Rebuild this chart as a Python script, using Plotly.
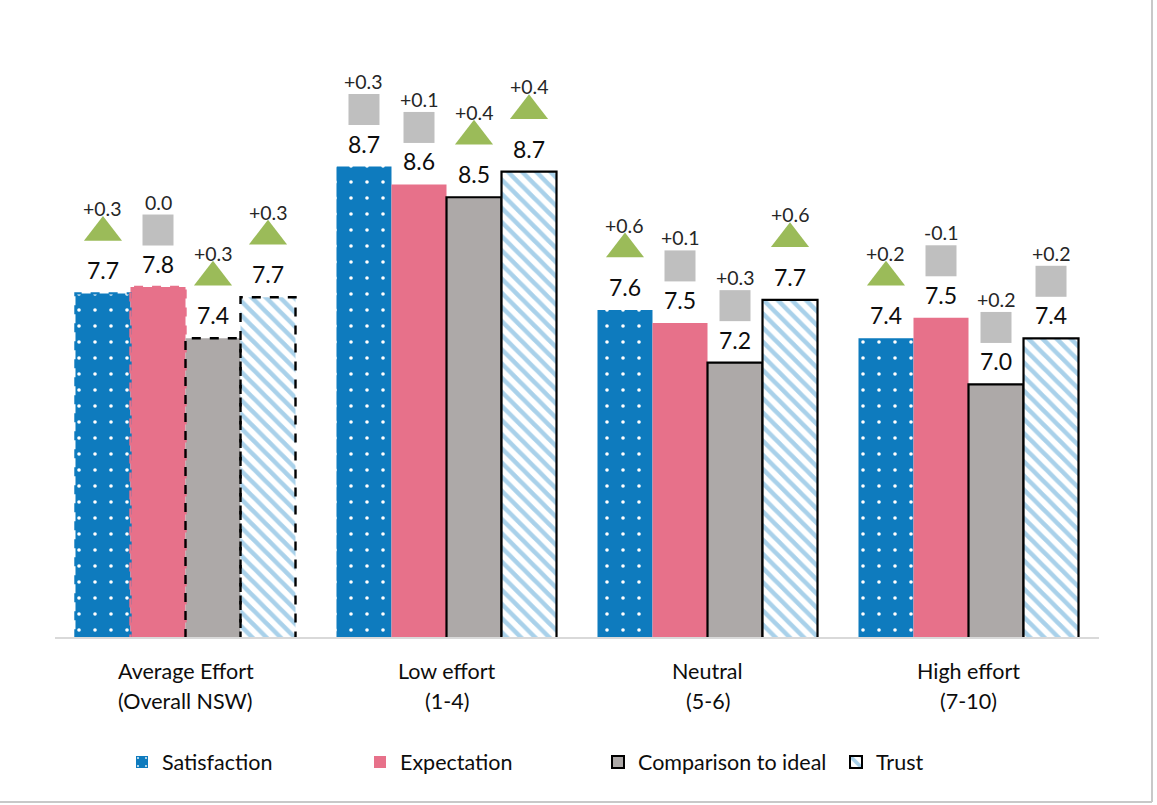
import plotly.graph_objects as go

# ---- data -------------------------------------------------------------
cat_line1 = ["Average Effort", "Low effort", "Neutral", "High effort"]
cat_line2 = ["(Overall NSW)", "(1-4)", "(5-6)", "(7-10)"]

series_names = ["Satisfaction", "Expectation", "Comparison to ideal", "Trust"]

satisfaction = [7.71, 8.70, 7.58, 7.36]
expectation = [7.76, 8.56, 7.48, 7.52]
comparison = [7.36, 8.46, 7.17, 7.00]
trust = [7.68, 8.66, 7.66, 7.36]

# change since previous wave, and whether it is significant
chg_satisfaction = [0.3, 0.3, 0.6, 0.2]
chg_expectation = [0.0, 0.1, 0.1, -0.1]
chg_comparison = [0.3, 0.4, 0.3, 0.2]
chg_trust = [0.3, 0.4, 0.6, 0.2]

sig_satisfaction = [True, False, True, True]
sig_expectation = [False, False, False, False]
sig_comparison = [True, True, False, False]
sig_trust = [True, True, True, False]

values = [satisfaction, expectation, comparison, trust]
changes = [chg_satisfaction, chg_expectation, chg_comparison, chg_trust]
signif = [sig_satisfaction, sig_expectation, sig_comparison, sig_trust]

# ---- layout geometry --------------------------------------------------
W, H = 1157, 805
M_L, M_R, M_T, M_B = 55, 58, 30, 168
plot_w = W - M_L - M_R
plot_h = H - M_T - M_B
y_min = 5.03
ppu = 128.2                      # pixels per score unit
y_max = y_min + plot_h / ppu

bargap = 0.157
bw = (1 - bargap) / 4
xs = list(range(len(cat_line1)))

FONT = "Lato"
TXT = "#0D0D0D"
BLUE = "#0E7BBE"
PINK = "#E7718A"
GREY = "#ADA9A8"
STRIPE = "#A9D1EA"
GREEN = "#9BBB59"
SQ_GREY = "#BFBFBF"

fig = go.Figure()

sat_pattern = dict(shape=".", fgcolor="white", bgcolor=BLUE,
                   size=16, solidity=0.04, fillmode="replace")
trust_pattern = dict(shape="\\", fgcolor=STRIPE, bgcolor="white",
                     size=10, solidity=0.45, fillmode="replace")

styles = [
    dict(color=BLUE, pattern=sat_pattern, line=dict(width=0)),
    dict(color=PINK, line=dict(width=0)),
    dict(color=GREY, line=dict(color="black", width=[0, 2.2, 2.2, 2.2])),
    dict(color="white", pattern=trust_pattern,
         line=dict(color="black", width=[0, 2.2, 2.2, 2.2])),
]
legend_styles = [
    dict(color=BLUE, pattern=sat_pattern, line=dict(width=0)),
    dict(color=PINK, line=dict(width=0)),
    dict(color=GREY, line=dict(color="black", width=2)),
    dict(color="white", pattern=trust_pattern, line=dict(color="black", width=2)),
]

for i, (name, vals) in enumerate(zip(series_names, values)):
    fig.add_trace(go.Bar(
        x=xs, y=vals, name=name, width=bw, offset=(i - 2) * bw,
        marker=styles[i], hoverinfo="skip", showlegend=False,
    ))

# legend entries
for i, name in enumerate(series_names):
    fig.add_trace(go.Bar(x=[None], y=[None], name=name,
                         marker=legend_styles[i], hoverinfo="skip"))

# dashed outlines on the overall-average group
dash_colors = [BLUE, PINK, "black", "black"]
for i, vals in enumerate(values):
    x0 = xs[0] + (i - 2) * bw
    fig.add_shape(type="rect", xref="x", yref="y",
                  x0=x0, x1=x0 + bw, y0=y_min - 0.02, y1=vals[0],
                  line=dict(color=dash_colors[i], width=2.4, dash="dash"),
                  fillcolor="rgba(0,0,0,0)", layer="above")

# value labels, significance markers and change labels above each bar
tri_x, tri_y, sq_x, sq_y = [], [], [], []
for i, vals in enumerate(values):
    for g, v in enumerate(vals):
        cx = xs[g] + (i - 1.5) * bw
        fig.add_annotation(x=cx, y=v, xref="x", yref="y", text=f"{v:.1f}",
                           showarrow=False, yshift=23,
                           font=dict(family=FONT, size=23, color=TXT))
        c = changes[i][g]
        ctext = f"+{c:.1f}" if c > 0 else f"{c:.1f}"
        fig.add_annotation(x=cx, y=v, xref="x", yref="y", text=ctext,
                           showarrow=False, yshift=85,
                           font=dict(family=FONT, size=19.5, color="#262626"))
        my = v + 57 / ppu
        if signif[i][g]:
            tri_x.append(cx); tri_y.append(my + 4 / ppu)
        else:
            sq_x.append(cx); sq_y.append(my)

fig.add_trace(go.Scatter(x=tri_x, y=tri_y, mode="markers", showlegend=False,
                         hoverinfo="skip",
                         marker=dict(symbol="triangle-up", size=33, color=GREEN,
                                     line=dict(width=0))))
fig.add_trace(go.Scatter(x=sq_x, y=sq_y, mode="markers", showlegend=False,
                         hoverinfo="skip",
                         marker=dict(symbol="square", size=31, color=SQ_GREY,
                                     line=dict(width=0))))

# two-line category labels
for g in xs:
    fig.add_annotation(x=g, y=0, xref="x", yref="paper", text=cat_line1[g],
                       showarrow=False, yanchor="middle", yshift=-34,
                       font=dict(family=FONT, size=21.5, color=TXT))
    fig.add_annotation(x=g, y=0, xref="x", yref="paper", text=cat_line2[g],
                       showarrow=False, yanchor="middle", yshift=-64,
                       font=dict(family=FONT, size=21.5, color=TXT))

# outer frame (right and bottom edges)
fx = (1152 - M_L) / plot_w
fy = -(802 - (H - M_B)) / plot_h
fig.add_shape(type="line", xref="paper", yref="paper", x0=fx, x1=fx,
              y0=fy, y1=1 + M_T / plot_h, line=dict(color="#C8C8C8", width=2))
fig.add_shape(type="line", xref="paper", yref="paper", x0=-M_L / plot_w, x1=fx,
              y0=fy, y1=fy, line=dict(color="#C8C8C8", width=2))

fig.update_layout(
    width=W, height=H,
    margin=dict(l=M_L, r=M_R, t=M_T, b=M_B),
    paper_bgcolor="white", plot_bgcolor="white",
    barmode="overlay",
    font=dict(family=FONT, size=21, color=TXT),
    xaxis=dict(range=[-0.5, len(xs) - 0.5], showticklabels=False, ticks="",
               showgrid=False, zeroline=False, showline=True,
               linecolor="#D9D9D9", linewidth=2, fixedrange=True),
    yaxis=dict(range=[y_min, y_max], visible=False, fixedrange=True),
    legend=dict(orientation="h", x=(122 - M_L) / plot_w, xanchor="left",
                y=-0.206, yanchor="middle", entrywidth=193,
                traceorder="normal", itemwidth=30,
                font=dict(family=FONT, size=21.5, color=TXT)),
    showlegend=True,
)

fig.write_html("out.html", config={"displayModeBar": False})
